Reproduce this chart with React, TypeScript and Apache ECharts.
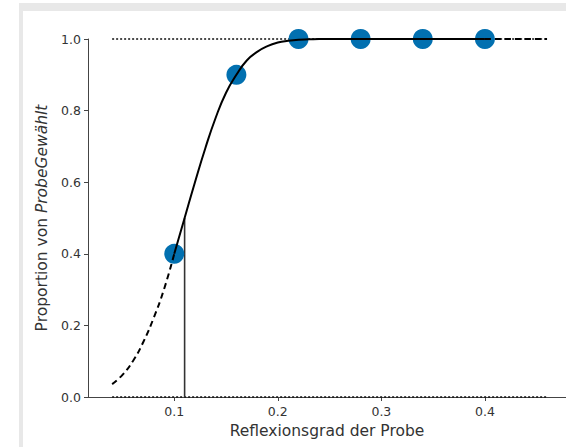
import React, { useEffect, useRef } from "react";
import * as echarts from "echarts";

// Observed proportions
const obsX = [0.1, 0.16, 0.22, 0.28, 0.34, 0.4];
const obsY = [0.4, 0.9, 1.0, 1.0, 1.0, 1.0];

// Fitted curve: dashed extrapolation left
const leftX = [0.04, 0.05, 0.06, 0.07, 0.08, 0.09, 0.1];
const leftY = [0.036, 0.062, 0.1, 0.153, 0.22, 0.3, 0.4];
// solid part within the data range
const midX = [0.1, 0.11, 0.12, 0.13, 0.14, 0.15, 0.16, 0.17, 0.18, 0.19, 0.2, 0.21, 0.22, 0.23, 0.24, 0.3, 0.35, 0.4];
const midY = [0.4, 0.5, 0.6, 0.695, 0.78, 0.85, 0.9, 0.94, 0.964, 0.98, 0.99, 0.995, 0.998, 0.999, 1.0, 1.0, 1.0, 1.0];
// dashed extrapolation right
const rightX = [0.4, 0.46];
const rightY = [1.0, 1.0];

// Threshold marker and reference bounds
const thresholdX = 0.11;
const thresholdY = 0.5;
const refX = [0.04, 0.46];
const lowerBound = 0.0;
const upperBound = 1.0;

const xTicks = [0.1, 0.2, 0.3, 0.4];

const zip = (xs: number[], ys: number[]) => xs.map((x, i) => [x, ys[i]]);

export default function App() {
  const ref = useRef<HTMLDivElement>(null);
  useEffect(() => {
    if (!ref.current) return;
    const chart = echarts.init(ref.current, undefined, { renderer: "svg" });
    const font = "DejaVu Sans";
    chart.setOption({
      animation: false,
      backgroundColor: "transparent",
      grid: { left: 88, right: 0, top: 39, bottom: 50 },
      xAxis: {
        type: "value",
        min: 0.0167,
        max: 0.4783,
        name: "Reflexionsgrad der Probe",
        nameLocation: "middle",
        nameGap: 25,
        nameTextStyle: { fontFamily: font, fontSize: 15.5, color: "#333" },
        axisLine: { show: true, onZero: false, lineStyle: { color: "#444", width: 1 } },
        axisTick: { show: true, length: 4, customValues: xTicks, lineStyle: { color: "#444" } },
        axisLabel: {
          customValues: xTicks,
          margin: 8,
          fontFamily: font,
          fontSize: 12.5,
          color: "#333",
          formatter: (v: number) => v.toFixed(1),
        },
        splitLine: { show: false },
      },
      yAxis: {
        type: "value",
        min: 0,
        max: 1,
        interval: 0.2,
        name: "{a|Proportion von }{b|ProbeGewählt}",
        nameLocation: "middle",
        nameRotate: 90,
        nameGap: 36,
        nameTextStyle: {
          fontFamily: font,
          fontSize: 15.5,
          color: "#333",
          rich: {
            a: { fontFamily: font, fontSize: 15.5, color: "#333" },
            b: { fontFamily: font, fontSize: 15.5, color: "#333", fontStyle: "italic" },
          },
        },
        axisLine: { show: true, lineStyle: { color: "#444", width: 1 } },
        axisTick: { show: true, length: 4, lineStyle: { color: "#444" } },
        axisLabel: {
          margin: 7,
          fontFamily: font,
          fontSize: 12.5,
          color: "#333",
          formatter: (v: number) => v.toFixed(1),
        },
        splitLine: { show: false },
      },
      series: [
        {
          type: "line",
          data: zip(refX, [upperBound, upperBound]),
          symbol: "none",
          clip: false,
          lineStyle: { color: "#111", width: 1.5, type: [2, 2] },
          z: 1,
        },
        {
          type: "line",
          data: zip(refX, [lowerBound, lowerBound]),
          symbol: "none",
          clip: false,
          lineStyle: { color: "#111", width: 1.5, type: [2, 2] },
          z: 1,
        },
        {
          type: "line",
          data: [
            [thresholdX, 0],
            [thresholdX, thresholdY],
          ],
          symbol: "none",
          clip: false,
          lineStyle: { color: "#333", width: 1.6 },
          z: 2,
        },
        {
          type: "scatter",
          data: zip(obsX, obsY),
          symbol: "circle",
          symbolSize: 20,
          clip: false,
          itemStyle: { color: "#0270b0", opacity: 1 },
          z: 3,
        },
        {
          type: "line",
          data: zip(leftX, leftY),
          symbol: "none",
          smooth: true,
          clip: false,
          lineStyle: { color: "#000", width: 2, type: [6, 4] },
          z: 4,
        },
        {
          type: "line",
          data: zip(midX, midY),
          symbol: "none",
          smooth: true,
          clip: false,
          lineStyle: { color: "#000", width: 2 },
          z: 4,
        },
        {
          type: "line",
          data: zip(rightX, rightY),
          symbol: "none",
          clip: false,
          lineStyle: { color: "#000", width: 2, type: [6, 4] },
          z: 4,
        },
      ],
    });
    return () => chart.dispose();
  }, []);

  return (
    <div style={{ position: "fixed", left: 0, top: 0, width: 566, height: 447, background: "#fff", overflow: "hidden" }}>
      <div style={{ position: "absolute", left: 19, top: 3, width: 600, height: 500, background: "#e8e8e8" }}>
        <div style={{ position: "absolute", left: 4, top: 8, width: 600, height: 500, background: "#fff" }} />
      </div>
      <div ref={ref} style={{ position: "absolute", left: 0, top: 0, width: 566, height: 447 }} />
    </div>
  );
}
